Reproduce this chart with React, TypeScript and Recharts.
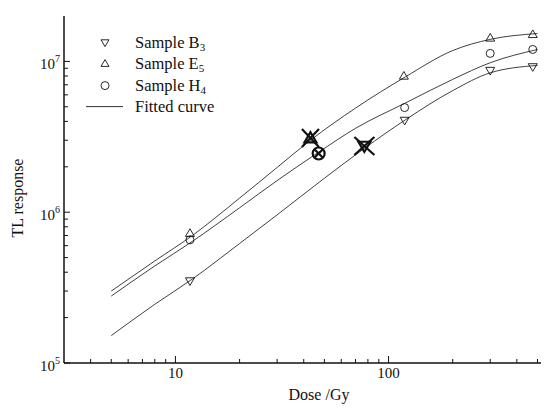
import React from "react";
import { ComposedChart, Line, Scatter, XAxis, YAxis, Legend } from "recharts";

// dose (Gy) ticks on the log axis; only decades get a label
const doseTicks = [4, 5, 6, 7, 8, 9, 10, 20, 30, 40, 50, 60, 70, 80, 90, 100, 200, 300, 400, 500];
const doseLabels = [10, 100];

const responseTicks = [
  1e5, 2e5, 3e5, 4e5, 5e5, 6e5, 7e5, 8e5, 9e5,
  1e6, 2e6, 3e6, 4e6, 5e6, 6e6, 7e6, 8e6, 9e6,
  1e7,
];
const responseLabels = [1e5, 1e6, 1e7];

// measured points
const sampleB3 = [
  { x: 11.7, y: 3.5e5 },
  { x: 119, y: 4.06e6 },
  { x: 300, y: 8.7e6 },
  { x: 475, y: 9.2e6 },
];
const sampleE5 = [
  { x: 11.7, y: 7.25e5 },
  { x: 118, y: 8.0e6 },
  { x: 300, y: 1.43e7 },
  { x: 475, y: 1.51e7 },
];
const sampleH4 = [
  { x: 11.7, y: 6.56e5 },
  { x: 119, y: 4.94e6 },
  { x: 300, y: 1.13e7 },
  { x: 475, y: 1.2e7 },
];

// crossed-out points
const markedB3 = [{ x: 77, y: 2.75e6 }];
const markedE5 = [{ x: 43, y: 3.1e6 }];
const markedH4 = [{ x: 47, y: 2.45e6 }];

// fitted curves
const fitB3 = [
  { x: 5, y: 1.52e5 },
  { x: 8, y: 2.45e5 },
  { x: 12, y: 3.6e5 },
  { x: 20, y: 6.2e5 },
  { x: 30, y: 9.6e5 },
  { x: 50, y: 1.68e6 },
  { x: 77, y: 2.65e6 },
  { x: 120, y: 4.1e6 },
  { x: 200, y: 6.4e6 },
  { x: 300, y: 8.4e6 },
  { x: 500, y: 9.4e6 },
];
const fitE5 = [
  { x: 5, y: 3.0e5 },
  { x: 8, y: 4.75e5 },
  { x: 12, y: 7.0e5 },
  { x: 20, y: 1.24e6 },
  { x: 30, y: 1.98e6 },
  { x: 43, y: 3.0e6 },
  { x: 70, y: 4.9e6 },
  { x: 120, y: 7.9e6 },
  { x: 200, y: 1.18e7 },
  { x: 300, y: 1.4e7 },
  { x: 500, y: 1.53e7 },
];
const fitH4 = [
  { x: 5, y: 2.78e5 },
  { x: 8, y: 4.4e5 },
  { x: 12, y: 6.4e5 },
  { x: 20, y: 1.07e6 },
  { x: 30, y: 1.62e6 },
  { x: 47, y: 2.5e6 },
  { x: 70, y: 3.6e6 },
  { x: 120, y: 5.3e6 },
  { x: 200, y: 7.6e6 },
  { x: 300, y: 9.8e6 },
  { x: 500, y: 1.2e7 },
];

const legendRows = [
  { kind: "down", text: "Sample B", sub: "3" },
  { kind: "up", text: "Sample E", sub: "5" },
  { kind: "circle", text: "Sample H", sub: "4" },
  { kind: "line", text: "Fitted curve", sub: "" },
];

const FONT = "'Liberation Serif', 'DejaVu Serif', serif";
const INK = "#111";

type Kind = "down" | "up" | "circle" | "line";

function Glyph({ kind, cx, cy, s, w }: { kind: Kind; cx: number; cy: number; s: number; w: number }) {
  if (kind === "circle") {
    return <circle cx={cx} cy={cy} r={s} fill="none" stroke={INK} strokeWidth={w} />;
  }
  const d =
    kind === "down"
      ? `M${cx - s},${cy - s * 0.7}L${cx + s},${cy - s * 0.7}L${cx},${cy + s}Z`
      : `M${cx - s},${cy + s * 0.7}L${cx + s},${cy + s * 0.7}L${cx},${cy - s}Z`;
  return <path d={d} fill="none" stroke={INK} strokeWidth={w} strokeLinejoin="miter" />;
}

function Marked({ kind, cx, cy }: { kind: Kind; cx: number; cy: number }) {
  const hx = kind === "circle" ? 4.5 : kind === "down" ? 10 : 8.5;
  const hy = kind === "circle" ? 4.5 : 9;
  return (
    <g>
      <Glyph kind={kind} cx={cx} cy={cy} s={kind === "circle" ? 6 : 6} w={2.2} />
      <line x1={cx - hx} y1={cy - hy} x2={cx + hx} y2={cy + hy} stroke={INK} strokeWidth={2.2} />
      <line x1={cx - hx} y1={cy + hy} x2={cx + hx} y2={cy - hy} stroke={INK} strokeWidth={2.2} />
    </g>
  );
}

const DoseTick = (props: any) => {
  const { x, y, payload } = props;
  const major = doseLabels.includes(payload.value);
  return (
    <g>
      <line x1={x} y1={y} x2={x} y2={y - (major ? 7 : 4)} stroke={INK} strokeWidth={1} />
      {major && (
        <text x={x} y={y + 15} textAnchor="middle" fontFamily={FONT} fontSize={15} fill={INK}>
          {payload.value}
        </text>
      )}
    </g>
  );
};

const ResponseTick = (props: any) => {
  const { x, y, payload } = props;
  const major = responseLabels.includes(payload.value);
  const exp = Math.round(Math.log10(payload.value));
  return (
    <g>
      <line x1={x} y1={y} x2={x + (major ? 6 : 4)} y2={y} stroke={INK} strokeWidth={1} />
      {major && (
        <text x={x - 4} y={y + 8} textAnchor="end" fontFamily={FONT} fontSize={15} fill={INK}>
          <tspan>10</tspan>
          <tspan dy={-7} fontSize={10}>
            {exp}
          </tspan>
        </text>
      )}
    </g>
  );
};

const LegendBox = () => (
  <div style={{ fontFamily: FONT, fontSize: 16.5, color: INK }}>
    {legendRows.map((r) => (
      <div key={r.text} style={{ position: "relative", height: 21.3 }}>
        <svg width={48} height={21.3} style={{ position: "absolute", left: 0, top: 0 }}>
          {r.kind === "line" ? (
            <line x1={2} y1={10.6} x2={39} y2={10.6} stroke="#333" strokeWidth={1} />
          ) : (
            <Glyph kind={r.kind as Kind} cx={21} cy={10.6} s={4} w={0.9} />
          )}
        </svg>
        <span style={{ position: "absolute", left: 51, top: 0, lineHeight: "21.3px", whiteSpace: "nowrap" }}>
          {r.text}
          {r.sub && <sub style={{ fontSize: 11, verticalAlign: "-3px" }}>{r.sub}</sub>}
        </span>
      </div>
    ))}
  </div>
);

const curveStyle = { stroke: "#2a2a2a", strokeWidth: 0.9 };

export default function App() {
  return (
    <ComposedChart width={541} height={405} margin={{ top: 8, right: 1, bottom: 0, left: 0 }}>
      <XAxis
        dataKey="x"
        type="number"
        scale="log"
        domain={[3, 560]}
        allowDataOverflow
        ticks={doseTicks}
        interval={0}
        height={50}
        tickSize={0}
        tickMargin={0}
        tickLine={false}
        axisLine={{ stroke: INK, strokeWidth: 1.5 }}
        tick={<DoseTick />}
        label={{
          content: (p: any) => (
            <text
              x={p.viewBox.x + p.viewBox.width / 2 + 13}
              y={p.viewBox.y + 37}
              textAnchor="middle"
              fontFamily={FONT}
              fontSize={16}
              fill={INK}
            >
              Dose /Gy
            </text>
          ),
        }}
      />
      <YAxis
        dataKey="y"
        type="number"
        scale="log"
        domain={[1e5, 2e7]}
        allowDataOverflow
        ticks={responseTicks}
        interval={0}
        width={56}
        tickSize={0}
        tickMargin={0}
        tickLine={false}
        axisLine={{ stroke: INK, strokeWidth: 1.5 }}
        tick={<ResponseTick />}
        label={{
          content: (p: any) => (
            <text
              x={15}
              y={190}
              transform="rotate(-90 15 190)"
              textAnchor="middle"
              fontFamily={FONT}
              fontSize={16}
              fill={INK}
            >
              TL response
            </text>
          ),
        }}
      />
      <Legend
        layout="vertical"
        align="center"
        verticalAlign="middle"
        wrapperStyle={{ top: 24, left: 76, width: 220, height: 90 }}
        content={<LegendBox />}
      />
      <Line data={fitB3} dataKey="y" type="monotone" dot={false} {...curveStyle} isAnimationActive={false} legendType="none" />
      <Line data={fitE5} dataKey="y" type="monotone" dot={false} {...curveStyle} isAnimationActive={false} legendType="none" />
      <Line data={fitH4} dataKey="y" type="monotone" dot={false} {...curveStyle} isAnimationActive={false} legendType="none" />
      <Scatter
        name="Sample B3"
        data={sampleB3}
        isAnimationActive={false}
        shape={(p: any) => <Glyph kind="down" cx={p.cx} cy={p.cy} s={4.5} w={0.9} />}
      />
      <Scatter
        name="Sample E5"
        data={sampleE5}
        isAnimationActive={false}
        shape={(p: any) => <Glyph kind="up" cx={p.cx} cy={p.cy} s={4.5} w={0.9} />}
      />
      <Scatter
        name="Sample H4"
        data={sampleH4}
        isAnimationActive={false}
        shape={(p: any) => <Glyph kind="circle" cx={p.cx} cy={p.cy} s={4} w={0.9} />}
      />
      <Scatter data={markedB3} isAnimationActive={false} legendType="none" shape={(p: any) => <Marked kind="down" cx={p.cx} cy={p.cy} />} />
      <Scatter data={markedE5} isAnimationActive={false} legendType="none" shape={(p: any) => <Marked kind="up" cx={p.cx} cy={p.cy} />} />
      <Scatter data={markedH4} isAnimationActive={false} legendType="none" shape={(p: any) => <Marked kind="circle" cx={p.cx} cy={p.cy} />} />
    </ComposedChart>
  );
}
